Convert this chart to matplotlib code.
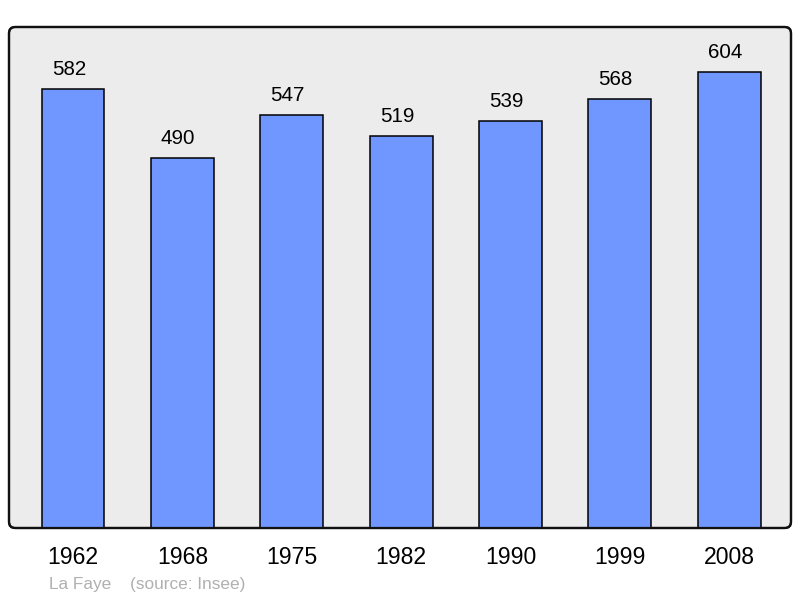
import matplotlib
matplotlib.use("Agg")
import matplotlib.pyplot as plt
from matplotlib.patches import FancyBboxPatch

years = ["1962", "1968", "1975", "1982", "1990", "1999", "2008"]
population = [582, 490, 547, 519, 539, 568, 604]
place = "La Faye"
source = "(source: Insee)"

plt.rcParams['font.family'] = ['Liberation Sans', 'DejaVu Sans']

fig = plt.figure(figsize=(8, 5.98), dpi=100)
ax = fig.add_axes([9/800, 1-528/598, 782/800, 501/598])
ax.set_facecolor('none')

x = list(range(len(years)))
bars = ax.bar(x, population, width=0.575, color='#7096ff', edgecolor='black',
              linewidth=1.1, zorder=2)
for xi, v in zip(x, population):
    ax.annotate(str(v), (xi, v), xytext=(-3, 14.2), textcoords='offset points',
                ha='center', va='center', fontsize=14.8, color='black')

ax.set_xlim(-0.585, 6.565)
ax.set_ylim(0, 664)
ax.set_xticks(x)
ax.set_xticklabels(years, fontsize=16.6)
ax.tick_params(axis='x', length=0, pad=13.3)
ax.set_yticks([])
for s in ax.spines.values():
    s.set_visible(False)

frame = FancyBboxPatch((0, 0), 1, 1, boxstyle="round,pad=0,rounding_size=0.008",
                       mutation_aspect=782/501, transform=ax.transAxes,
                       facecolor='#ececec', edgecolor='#111111', linewidth=1.6,
                       zorder=0, clip_on=False)
ax.add_patch(frame)
frame2 = FancyBboxPatch((0, 0), 1, 1, boxstyle="round,pad=0,rounding_size=0.008",
                        mutation_aspect=782/501, transform=ax.transAxes,
                        facecolor='none', edgecolor='#111111', linewidth=1.6,
                        zorder=3, clip_on=False)
ax.add_patch(frame2)

fig.text(49/800, 1-585/598, place, fontsize=12.4, color='#b0b0b0', va='center', ha='left')
fig.text(130/800, 1-585/598, source, fontsize=12.4, color='#b0b0b0', va='center', ha='left')

fig.savefig('out.png', dpi=100)
